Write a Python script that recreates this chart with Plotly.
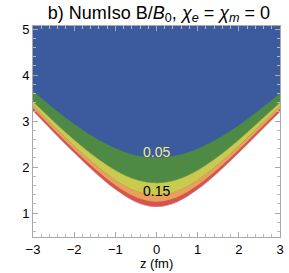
import plotly.graph_objects as go

# z positions (fm)
z_vals = [-3.0, -2.5, -2.0, -1.5, -1.0, -0.5, 0.0, 0.5, 1.0, 1.5, 2.0, 2.5, 3.0]

# y positions of contour boundaries
edge = [3.22, 2.755, 2.306, 1.884, 1.512, 1.237, 1.13, 1.237, 1.512, 1.884, 2.306, 2.755, 3.20]
lev_020 = [3.274, 2.813, 2.371, 1.958, 1.60, 1.34, 1.24, 1.34, 1.60, 1.958, 2.371, 2.813, 3.26]
lev_015 = [3.347, 2.893, 2.46, 2.061, 1.72, 1.479, 1.39, 1.479, 1.72, 2.061, 2.46, 2.893, 3.33]
lev_010 = [3.423, 2.995, 2.592, 2.229, 1.929, 1.723, 1.65, 1.723, 1.929, 2.229, 2.592, 2.995, 3.40]
lev_005 = [3.65, 3.275, 2.934, 2.638, 2.405, 2.253, 2.20, 2.251, 2.396, 2.621, 2.907, 3.237, 3.60]

level_names = ["edge", "0.20", "0.15", "0.10", "0.05"]
level_colors = ["#ffffff", "#d9524c", "#e8a05a", "#c9cb4e", "#4f8a45"]
blue = "#3c5a9e"

label_texts = ["0.05", "0.15"]
label_z = [0.0, 0.0]
label_y = [2.33, 1.48]
label_colors = ["#eeee78", "#000000"]

FONT = "Liberation Sans, Arial"

fig = go.Figure()
series = [edge, lev_020, lev_015, lev_010, lev_005]
for i, (name, ys, col) in enumerate(zip(level_names, series, level_colors)):
    fig.add_trace(go.Scatter(
        x=z_vals, y=ys, mode="lines", name=name,
        line=dict(color=col, width=0.5, shape="spline", smoothing=1.0),
        fill="tozeroy" if i == 0 else "tonexty",
        fillcolor=col, hoverinfo="skip", showlegend=False,
    ))

for t, zx, yy, c in zip(label_texts, label_z, label_y, label_colors):
    fig.add_annotation(x=zx, y=yy, text=t, showarrow=False,
                       font=dict(size=14, color=c, family=FONT))

# x-axis title as an annotation for precise placement
fig.add_annotation(x=0.5, y=-0.125, xref="paper", yref="paper", text="z (fm)",
                   showarrow=False, yanchor="middle",
                   font=dict(size=13, color="#000000", family=FONT))

axis_common = dict(
    showline=True, linecolor="#a8a8a8", linewidth=1, mirror="ticks",
    ticks="inside", ticklen=5, tickcolor="#a8a8a8", tickwidth=1,
    showgrid=False, zeroline=False,
    tickfont=dict(size=13, color="#000000", family=FONT),
    minor=dict(ticks="inside", ticklen=3, tickcolor="#b8b8b8", dtick=0.2, showgrid=False),
)

fig.update_xaxes(range=[-3, 3], dtick=1, tick0=-3, **axis_common)
fig.update_yaxes(range=[0.48, 5.07], dtick=1, tick0=1, **axis_common)

fig.update_layout(
    width=289, height=273,
    margin=dict(l=33, r=5, t=26, b=36),
    paper_bgcolor="#ffffff", plot_bgcolor=blue,
    title=dict(text="b) NumIso B/<i>B</i><sub>0</sub>, <i>χ<sub>e</sub></i> = <i>χ<sub>m</sub></i> = 0",
               x=0.55, xanchor="center", y=0.955, yanchor="middle",
               font=dict(size=18, color="#000000", family=FONT)),
)

fig.write_html("out.html",
               config={"displayModeBar": False},
               post_script="document.body.style.margin='0px';document.body.style.overflow='hidden';")
